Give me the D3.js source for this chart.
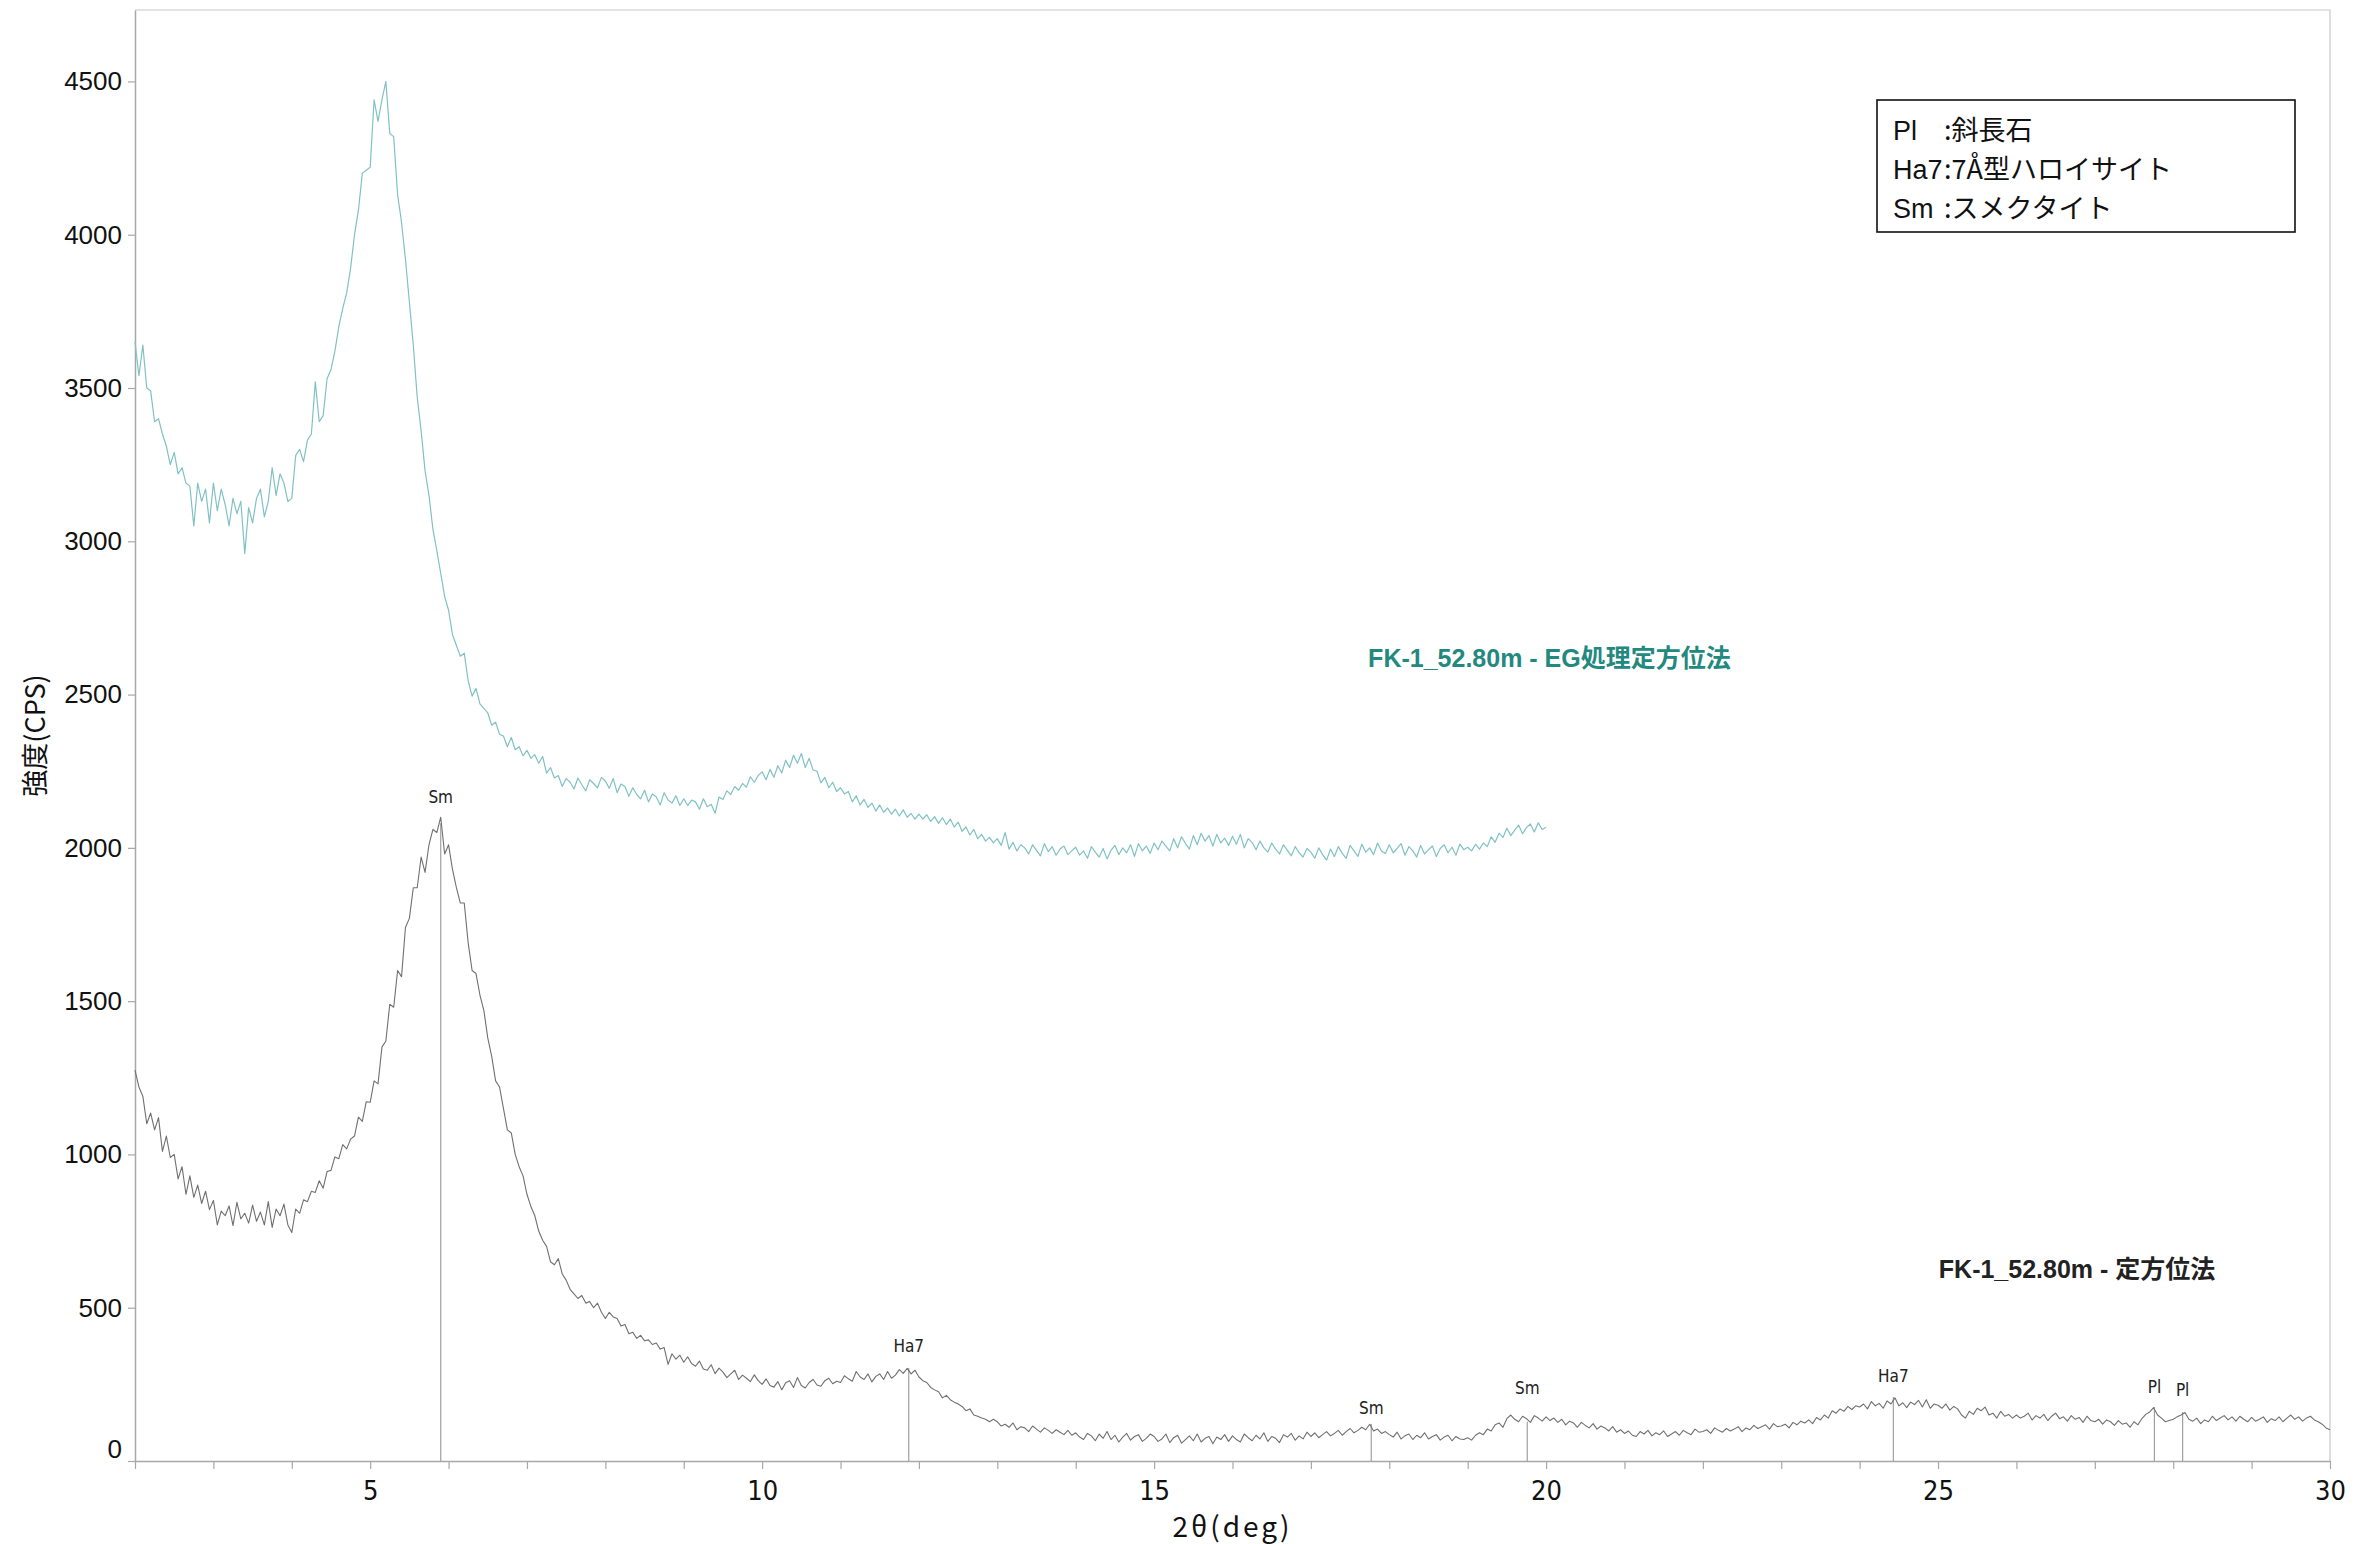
<!DOCTYPE html>
<html><head><meta charset="utf-8">
<script src="https://cdn.jsdelivr.net/npm/d3@7"></script>
<style>body{margin:0;background:#fff}svg{display:block}</style>
</head><body>
<svg id="c" width="2376" height="1544"></svg>
<script>
// ---- data (2θ grid: start 2.00°, step 0.05°) ----
const angleStart = 2.0, angleStep = 0.05;

const intensityOriented = [
1275,1220,1190,1100,1135,1080,1120,1010,1060,990,1000,920,960,870,930,860,900,840,880,820,
850,770,815,800,832,768,844,790,808,776,835,782,812,770,846,762,822,800,838,770,
745,822,808,852,846,880,876,914,890,944,948,992,986,1032,1018,1050,1060,1122,1108,1172,
1170,1240,1230,1350,1370,1490,1480,1600,1580,1740,1770,1870,1870,1970,1920,2010,2060,2050,2100,1980,
2010,1930,1870,1820,1820,1690,1600,1590,1520,1470,1380,1320,1240,1220,1150,1080,1070,1000,960,930,
870,830,800,750,720,700,650,640,660,610,590,560,545,530,540,515,520,500,515,485,
465,485,470,465,440,445,415,420,400,410,392,395,380,385,365,370,315,350,332,345,
322,340,318,309,326,300,296,314,285,303,290,272,284,296,266,280,270,259,281,262,
250,268,246,241,259,232,255,262,240,272,246,238,256,266,248,244,262,270,252,260,
256,278,268,260,292,274,266,284,258,276,284,266,292,270,280,298,286,302,284,296,
274,262,256,240,232,226,206,214,200,192,186,178,164,170,150,146,140,136,128,136,
128,114,120,110,124,102,112,108,96,114,104,94,108,100,90,102,94,86,100,84,
92,78,70,90,82,66,88,74,96,70,84,62,78,90,68,80,86,64,74,88,
80,64,72,88,60,76,84,58,70,82,66,88,62,74,80,56,78,70,86,64,
82,70,62,88,76,66,84,72,92,64,80,74,60,86,78,90,68,82,72,94,
80,92,76,86,96,82,90,100,84,96,106,92,100,110,102,120,98,104,90,96,
86,78,94,72,82,88,70,84,76,92,72,80,86,68,78,84,66,80,72,70,
76,68,84,92,86,104,98,118,124,110,138,150,136,128,146,138,126,148,140,130,
144,132,140,126,136,118,130,124,110,126,116,108,122,104,114,108,98,112,94,102,
90,98,84,80,96,88,100,82,92,86,98,80,88,96,84,100,92,86,104,94,
96,102,90,108,100,94,106,98,104,112,96,108,102,116,106,112,118,104,122,112,
114,120,108,126,118,130,124,134,122,142,134,150,140,164,156,170,162,178,168,180,
176,186,170,194,180,188,172,196,186,206,180,190,174,192,184,198,176,200,172,186,
182,172,186,166,178,170,150,140,162,152,172,164,176,150,156,140,162,146,152,140,
150,140,146,156,134,148,140,152,132,146,156,138,144,130,148,136,142,126,146,132,
128,136,120,134,128,116,132,120,124,110,128,118,138,152,160,174,150,140,128,132,
136,144,150,158,136,130,140,122,134,128,146,132,140,148,134,144,130,146,136,128,
142,130,136,144,126,138,132,144,128,140,150,136,144,130,140,146,134,128,120,108,
102];

const intensityEG = [
3650,3540,3640,3500,3490,3390,3400,3350,3310,3250,3290,3220,3240,3190,3180,3050,3190,3130,3170,3060,
3190,3100,3170,3120,3050,3140,3090,3130,2960,3110,3060,3140,3170,3080,3130,3240,3150,3220,3190,3130,
3140,3280,3300,3260,3330,3350,3520,3390,3410,3530,3560,3620,3700,3760,3810,3890,4000,4080,4200,4210,
4220,4440,4370,4440,4500,4330,4320,4130,4040,3920,3780,3640,3470,3360,3230,3150,3040,2970,2895,2820,
2775,2695,2660,2625,2635,2545,2495,2520,2470,2455,2440,2400,2410,2370,2365,2330,2360,2320,2330,2300,
2318,2292,2304,2276,2298,2244,2262,2228,2236,2200,2226,2214,2192,2228,2206,2186,2222,2210,2196,2230,
2218,2194,2226,2180,2208,2200,2168,2196,2174,2160,2188,2150,2176,2166,2140,2180,2156,2146,2170,2138,
2160,2138,2156,2150,2126,2160,2134,2142,2113,2166,2158,2186,2174,2200,2188,2210,2198,2232,2214,2236,
2248,2222,2256,2230,2268,2244,2286,2262,2302,2276,2308,2262,2292,2254,2250,2212,2230,2196,2214,2184,
2196,2176,2184,2150,2170,2140,2158,2132,2146,2120,2140,2116,2130,2110,2126,2104,2124,2100,2112,2094,
2110,2094,2108,2086,2102,2080,2098,2076,2094,2068,2084,2054,2068,2042,2060,2030,2044,2022,2034,2016,
2030,2008,2050,1996,2018,1990,2010,2000,1980,2010,1992,1974,2014,1988,2004,1976,1996,2006,1978,1990,
2002,1976,1990,1966,2004,1986,1970,1998,1964,1992,2008,1978,2000,1984,2010,1972,2014,1990,2006,1982,
2016,1994,2022,2006,1990,2030,2000,2036,2014,1996,2040,2010,2048,2022,2040,2006,2044,2016,2032,2008,
2038,2012,2044,2000,2030,2018,1994,2022,2000,1986,2016,1996,1980,2010,1992,1974,2004,1984,1970,1998,
1986,1966,2000,1978,1960,1996,1972,2004,1982,1966,2008,1990,1972,2012,1986,2000,1978,2016,1990,1982,
2010,1984,1998,2014,1976,2004,1990,1970,2008,1980,1994,2006,1972,1998,2010,1984,2002,1976,2012,1994,
2002,1990,2012,1996,2016,2004,2036,2018,2048,2034,2064,2040,2058,2074,2046,2066,2078,2052,2082,2060,
2067];

const peakNames = ["Sm","Ha7","Sm","Sm","Ha7","Pl","Pl"];
const peakAngles = [5.9, 11.87, 17.77, 19.76, 24.43, 27.76, 28.12];
const peakTops = [2080, 303, 121, 128, 209, 176, 160];
const peakLabelLevels = [2165, 375, 173, 238, 277, 241, 231];

const yTickValues = [0,500,1000,1500,2000,2500,3000,3500,4000,4500];
const xTickLabels = [5,10,15,20,25,30];
const seriesNames = ["FK-1_52.80m - 定方位法", "FK-1_52.80m - EG処理定方位法"];
const legendKeys = ["Pl","Ha7","Sm"];
const legendNames = ["斜長石","7Å型ハロイサイト","スメクタイト"];
const xTitle = "2θ(deg)";
const yTitle = "強度(CPS)";

// ---- drawing ----
const svg = d3.select("#c");
const x = d3.scaleLinear().domain([2, 30]).range([135, 2330]);
const y = d3.scaleLinear().domain([0, 4733]).range([1461, 10]);
const sans = "'Liberation Sans', Arial, 'Noto Sans CJK JP', sans-serif";
const narrow = "'Liberation Sans Narrow', 'DejaVu Sans Condensed', 'Liberation Sans', Arial, sans-serif";
const jp = "'Liberation Sans', 'Noto Sans CJK JP', sans-serif";
const cjk = "'Noto Sans CJK JP', sans-serif";

svg.append("rect").attr("width",2376).attr("height",1544).attr("fill","#fff");

// frame (top & right)
svg.append("path")
  .attr("d", `M${x.range()[0]},${y.range()[1]}H${x.range()[1]}V${y.range()[0]}`)
  .attr("fill","none").attr("stroke","#c8c8c8").attr("stroke-width",1.2);

// axes
const gx = svg.append("g").attr("transform",`translate(0,${y(0)})`)
  .call(d3.axisBottom(x).tickValues(d3.range(2,31)).tickSize(8).tickSizeOuter(0).tickPadding(12)
    .tickFormat(d => xTickLabels.includes(d) ? String(d) : ""));
gx.select(".domain").attr("stroke","#a8a8a8").attr("stroke-width",1.5);
gx.selectAll(".tick line").attr("stroke","#a8a8a8").attr("stroke-width",1.2);
gx.selectAll(".tick text").attr("font-family",narrow).attr("font-size",27).attr("fill","#111");

const gy = svg.append("g").attr("transform",`translate(${x(2)},0)`)
  .call(d3.axisLeft(y).tickValues(yTickValues).tickSize(7).tickSizeOuter(0).tickPadding(6)
    .tickFormat(d3.format("d")));
gy.select(".domain").attr("stroke","#a8a8a8").attr("stroke-width",1.5);
gy.selectAll(".tick line").attr("stroke","#a8a8a8").attr("stroke-width",1.2);
gy.selectAll(".tick text").attr("font-family",sans).attr("font-size",26).attr("fill","#111");
gy.selectAll(".tick text").filter(d => d === 0).attr("transform","translate(0,-12)");

// axis titles
svg.append("text").attr("x",(x.range()[0]+x.range()[1])/2).attr("y",1537)
  .attr("text-anchor","middle").attr("font-family",cjk)
  .attr("font-size",28).attr("letter-spacing",3).attr("fill","#111").text(xTitle);
svg.append("text").attr("transform",`translate(33,${(y.range()[0]+y.range()[1])/2}) rotate(-90)`)
  .attr("text-anchor","middle").attr("dominant-baseline","central")
  .attr("font-family",cjk).attr("font-size",27).attr("fill","#111").text(yTitle);

// peak marker lines & labels
const peaks = peakAngles.map((a,i)=>({a, top:peakTops[i], lab:peakLabelLevels[i], name:peakNames[i]}));
svg.append("g").selectAll("line").data(peaks).join("line")
  .attr("x1",d=>x(d.a)).attr("x2",d=>x(d.a)).attr("y1",y(0)).attr("y2",d=>y(d.top))
  .attr("stroke","#a0a0a0").attr("stroke-width",1.2);
svg.append("g").selectAll("text").data(peaks).join("text")
  .attr("x",d=>x(d.a)).attr("y",d=>y(d.lab)).attr("text-anchor","middle").attr("dominant-baseline","central")
  .attr("font-family",narrow).attr("font-size",17).attr("fill","#222").text(d=>d.name);

// spectra
const line = d3.line().x((d,i)=>x(angleStart + i*angleStep)).y(d=>y(d));
svg.append("path").datum(intensityOriented).attr("d",line)
  .attr("fill","none").attr("stroke","#707070").attr("stroke-width",1.1).attr("stroke-linejoin","round");
svg.append("path").datum(intensityEG).attr("d",line)
  .attr("fill","none").attr("stroke","#80c2c4").attr("stroke-width",1.2).attr("stroke-linejoin","round");

// series labels
svg.append("text").attr("x",x(17.73)).attr("y",y(2620)).attr("dominant-baseline","central")
  .attr("font-family",jp).attr("font-size",25).attr("font-weight","bold").attr("fill","#23897f").text(seriesNames[1]);
svg.append("text").attr("x",x(25.01)).attr("y",y(625)).attr("dominant-baseline","central")
  .attr("font-family",jp).attr("font-size",25).attr("font-weight","bold").attr("fill","#222").text(seriesNames[0]);

// legend box
const lg = svg.append("g");
lg.append("rect").attr("x",1877).attr("y",100).attr("width",418).attr("height",132)
  .attr("fill","#fff").attr("stroke","#111").attr("stroke-width",1.6);
legendKeys.forEach((k,i)=>{
  const by = 140 + i*39;
  lg.append("text").attr("x",1893).attr("y",by).attr("font-family",jp).attr("font-size",27).attr("fill","#111").text(k);
  lg.append("text").attr("x",1944).attr("y",by).attr("font-family",cjk).attr("font-size",27).attr("fill","#111").text(":" + legendNames[i]);
});
</script>
</body></html>
